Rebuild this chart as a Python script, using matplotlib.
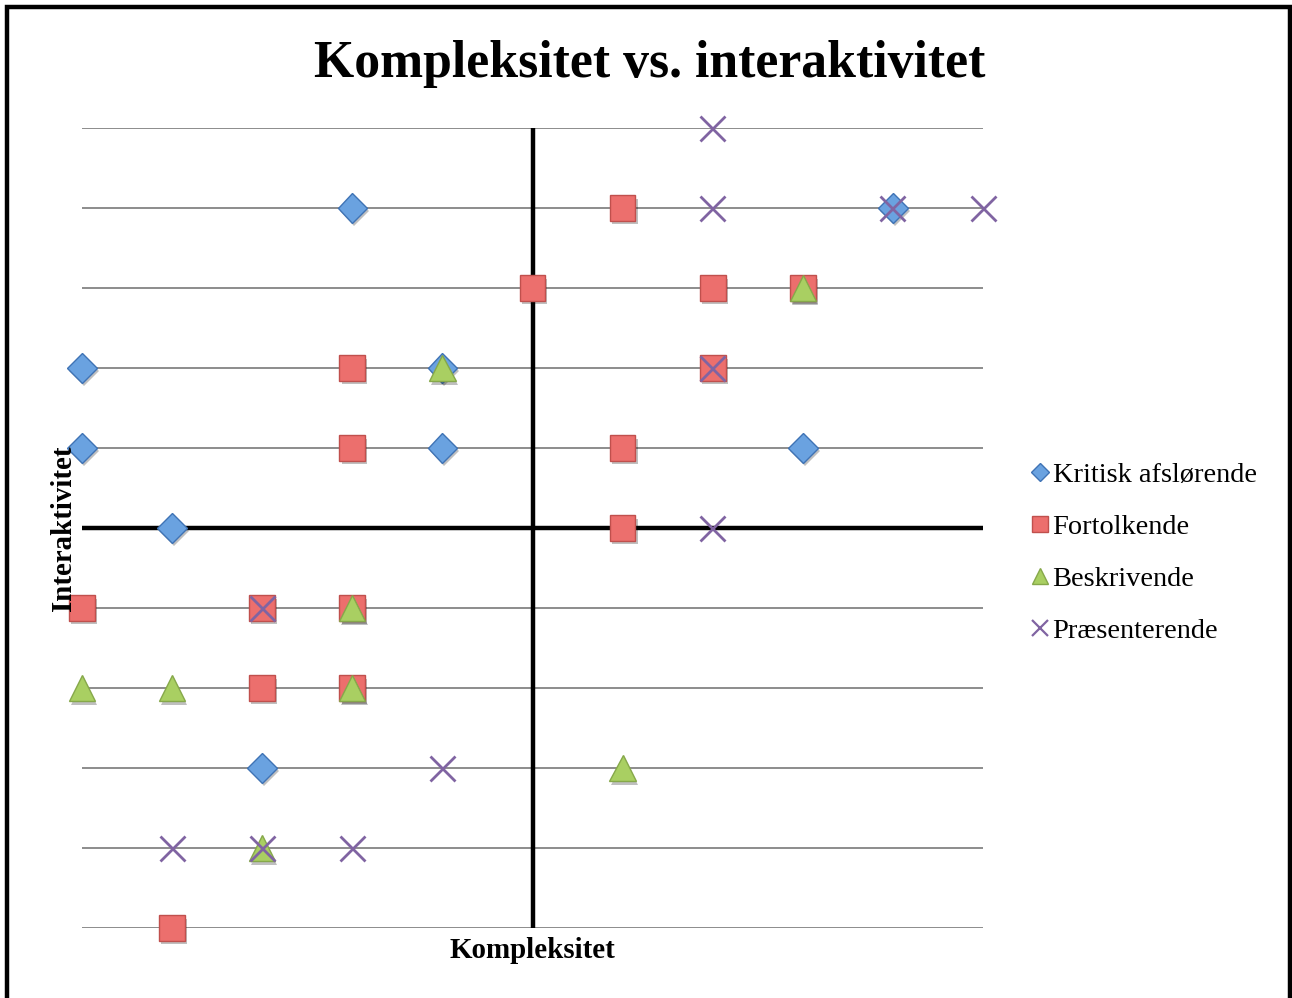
import matplotlib
matplotlib.use("Agg")
import matplotlib.pyplot as plt
import matplotlib.patheffects as pe
from matplotlib.patches import Rectangle
from matplotlib.lines import Line2D

plt.rcParams['font.family'] = ['Liberation Serif', 'DejaVu Serif']

title = "Kompleksitet vs. interaktivitet"
xlabel = "Kompleksitet"
ylabel = "Interaktivitet"

series_names = ["Kritisk afslørende", "Fortolkende", "Beskrivende", "Præsenterende"]

kritisk_x = [-2, 4, -5, -1, -5, -1, 3, -4, -3]
kritisk_y = [4, 4, 2, 2, 1, 1, 1, 0, -3]

fortolk_x = [1, 0, 2, 3, -2, 2, -2, 1, 1, -5, -3, -2, -3, -2, -4]
fortolk_y = [4, 3, 3, 3, 2, 2, 1, 1, 0, -1, -1, -1, -2, -2, -5]

beskriv_x = [3, -1, -2, -5, -4, -2, 1, -3]
beskriv_y = [3, 2, -1, -2, -2, -2, -3, -4]

praes_x = [2, 2, 4, 5, 2, 2, -3, -1, -4, -3, -2]
praes_y = [5, 4, 4, 4, 2, 0, -1, -3, -4, -4, -4]

grid_levels = [-5, -4, -3, -2, -1, 1, 2, 3, 4, 5]

W, H = 1292, 998
fig = plt.figure(figsize=(W / 100, H / 100), dpi=100)
fig.patch.set_facecolor('white')

# outer frame
fig.patches.append(Rectangle((7 / W, -0.05), (1283) / W, (991) / H + 0.05,
                             transform=fig.transFigure, fill=False,
                             edgecolor='black', linewidth=3.2))

ax = fig.add_axes([82 / W, (H - 928) / H, 901 / W, 800 / H])
ax.set_xlim(-5, 5)
ax.set_ylim(-5, 5)
ax.axis('off')

for g in grid_levels:
    ax.axhline(g, color='#8c8c8c', linewidth=1.4, zorder=1)
ax.axhline(0, color='black', linewidth=3.2, zorder=2)
ax.axvline(0, color='black', linewidth=3.2, zorder=2)

shadow = [pe.SimplePatchShadow(offset=(1.5, -2.5), shadow_rgbFace='#000000', alpha=0.25), pe.Normal()]

ax.plot(kritisk_x, kritisk_y, linestyle='none', marker='D', markersize=15,
        markerfacecolor='#6aa2e0', markeredgecolor='#3f73b5', markeredgewidth=1.0,
        zorder=3, path_effects=shadow, clip_on=False)
ax.plot(fortolk_x, fortolk_y, linestyle='none', marker='s', markersize=18.5,
        markerfacecolor='#ec6f6d', markeredgecolor='#c0504d', markeredgewidth=1.0,
        zorder=4, path_effects=shadow, clip_on=False)
ax.plot(beskriv_x, beskriv_y, linestyle='none', marker='^', markersize=19,
        markerfacecolor='#a9cf62', markeredgecolor='#86a84a', markeredgewidth=1.0,
        zorder=5, path_effects=shadow, clip_on=False)
ax.plot(praes_x, praes_y, linestyle='none', marker='x', markersize=18,
        markeredgecolor='#8064a2', markeredgewidth=2.0,
        zorder=6, path_effects=shadow, clip_on=False)

fig.text(650 / W, 1 - 64 / H, title, ha='center', va='center',
         fontsize=37.3, fontweight='bold')
fig.text(532 / W, 1 - 950 / H, xlabel, ha='center', va='center',
         fontsize=20.8, fontweight='bold')
fig.text(64 / W, 1 - 528 / H, ylabel, ha='center', va='center',
         fontsize=20.8, fontweight='bold', rotation=90)

handles = [
    Line2D([], [], linestyle='none', marker='D', markersize=9,
           markerfacecolor='#6aa2e0', markeredgecolor='#3f73b5'),
    Line2D([], [], linestyle='none', marker='s', markersize=11,
           markerfacecolor='#ec6f6d', markeredgecolor='#c0504d'),
    Line2D([], [], linestyle='none', marker='^', markersize=12,
           markerfacecolor='#a9cf62', markeredgecolor='#86a84a'),
    Line2D([], [], linestyle='none', marker='x', markersize=11,
           markeredgecolor='#8064a2', markeredgewidth=1.6),
]
fig.legend(handles, series_names, loc='upper left',
           bbox_to_anchor=(1028.5 / W, 1 - 462 / H), frameon=False,
           fontsize=20.4, handlelength=0.8, handletextpad=0.05,
           labelspacing=0.92, borderpad=0, borderaxespad=0)

fig.savefig('out.png', dpi=100)
